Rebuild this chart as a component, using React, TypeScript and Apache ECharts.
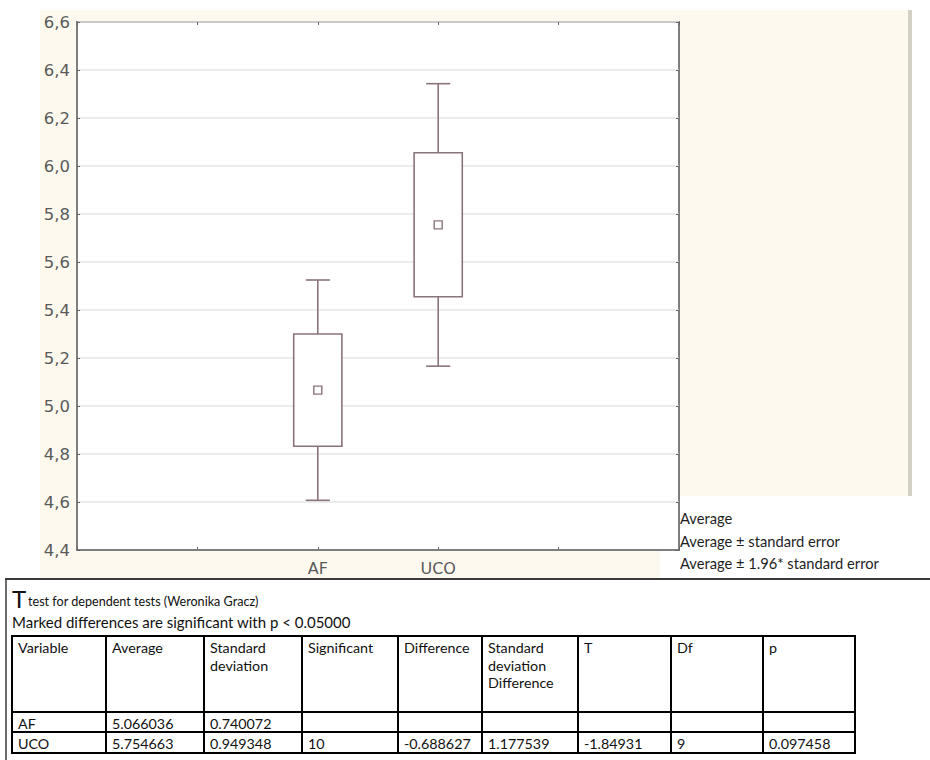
import React, { useEffect, useRef } from 'react';
import * as echarts from 'echarts';

// ---- data ----
const axisCategories = ['', '', 'AF', 'UCO', '', ''];
const variables = ['AF', 'UCO'];
const means = [5.066036, 5.754663];
const seLower = [4.832, 5.455];
const seUpper = [5.300, 6.055];
const ciLower = [4.607, 5.166];
const ciUpper = [5.525, 6.343];
const yTicks = { min: 4.4, max: 6.6, step: 0.2 };

const legendLines = ['Average', 'Average ± standard error', 'Average ± 1.96* standard error'];

const tableTitle = 'test for dependent tests (Weronika Gracz)';
const tableSubtitle = 'Marked differences are significant with p < 0.05000';
const tableHeader = ['Variable', 'Average', 'Standard\ndeviation', 'Significant', 'Difference', 'Standard\ndeviation\nDifference', 'T', 'Df', 'p'];
const rowAF = ['AF', '5.066036', '0.740072', '', '', '', '', '', ''];
const rowUCO = ['UCO', '5.754663', '0.949348', '10', '-0.688627', '1.177539', '-1.84931', '9', '0.097458'];

// ---- layout ----
const colEdges = [12, 106, 204, 302, 398, 482, 578, 671, 763, 855];
const rowEdges = [636, 712, 732, 753];

const BOX_COLOR = '#8a747a';
const CREAM = '#fdf9ee';
const TEXT_FONT = 'Lato';

export default function App() {
  const ref = useRef<HTMLDivElement>(null);

  useEffect(() => {
    document.body.style.margin = '0';
    const chart = echarts.init(ref.current!, null, { renderer: 'svg' });

    const seriesData = variables.map((v, i) => [
      axisCategories.indexOf(v),
      ciLower[i],
      seLower[i],
      means[i],
      seUpper[i],
      ciUpper[i],
    ]);

    const graphics: any[] = [];
    // backgrounds
    graphics.push({ type: 'rect', z: -100, silent: true, shape: { x: 40, y: 10, width: 869, height: 569 }, style: { fill: CREAM } });
    graphics.push({ type: 'rect', z: -99, silent: true, shape: { x: 660, y: 496, width: 270, height: 83 }, style: { fill: '#ffffff' } });
    graphics.push({ type: 'rect', z: -99, silent: true, shape: { x: 908, y: 10, width: 4, height: 486 }, style: { fill: '#d3d0c6' } });
    // legend text
    legendLines.forEach((t, i) => {
      graphics.push({ type: 'text', x: 680, y: 518 + i * 22.5, style: { text: t, font: `14.7px ${TEXT_FONT}`, fill: '#1e1e1e', verticalAlign: 'middle' } });
    });
    // table frame
    graphics.push({ type: 'line', shape: { x1: 5, y1: 579, x2: 930, y2: 579 }, style: { stroke: '#3a3a3a', lineWidth: 2 } });
    graphics.push({ type: 'line', shape: { x1: 6, y1: 579, x2: 6, y2: 760 }, style: { stroke: '#3a3a3a', lineWidth: 1.5 } });
    // title
    graphics.push({ type: 'text', x: 12, y: 610, style: { text: 'T', font: `24px ${TEXT_FONT}`, fill: '#111', verticalAlign: 'bottom' } });
    graphics.push({ type: 'text', x: 28, y: 608, style: { text: tableTitle, font: `12.6px ${TEXT_FONT}`, fill: '#111', verticalAlign: 'bottom' } });
    graphics.push({ type: 'text', x: 12, y: 622, style: { text: tableSubtitle, font: `15px ${TEXT_FONT}`, fill: '#111', verticalAlign: 'middle' } });
    // table grid lines
    colEdges.forEach((x) => {
      graphics.push({ type: 'line', shape: { x1: x, y1: rowEdges[0], x2: x, y2: rowEdges[rowEdges.length - 1] }, style: { stroke: '#000', lineWidth: 2 } });
    });
    rowEdges.forEach((y) => {
      graphics.push({ type: 'line', shape: { x1: colEdges[0] - 1, y1: y, x2: colEdges[colEdges.length - 1] + 1, y2: y }, style: { stroke: '#000', lineWidth: 2 } });
    });
    const cellFont = `14.3px ${TEXT_FONT}`;
    tableHeader.forEach((t, c) => {
      graphics.push({ type: 'text', x: colEdges[c] + 6, y: rowEdges[0] + 3, style: { text: t, font: cellFont, fill: '#111', lineHeight: 17.5, verticalAlign: 'top' } });
    });
    [rowAF, rowUCO].forEach((row, r) => {
      row.forEach((t, c) => {
        if (!t) return;
        graphics.push({ type: 'text', x: colEdges[c] + 6, y: (rowEdges[r + 1] + rowEdges[r + 2]) / 2 + 1, style: { text: t, font: cellFont, fill: '#111', verticalAlign: 'middle' } });
      });
    });

    const axisLabelStyle = { fontFamily: 'DejaVu Sans', color: '#5a5a5a' };

    chart.setOption({
      animation: false,
      backgroundColor: '#ffffff',
      grid: {
        left: 77, top: 22, right: 251, bottom: 210,
        show: true, backgroundColor: '#ffffff', borderColor: '#7e7e7e', borderWidth: 2,
      },
      xAxis: [
        {
          type: 'category', data: axisCategories, boundaryGap: false,
          axisLine: { show: true, lineStyle: { color: '#7e7e7e', width: 2 } },
          axisTick: { show: true, inside: true, length: 3, lineStyle: { color: '#666' } },
          axisLabel: { ...axisLabelStyle, fontSize: 16, margin: 10, interval: 0 },
          splitLine: { show: false },
        },
        {
          type: 'category', data: axisCategories, boundaryGap: false, position: 'top',
          axisLine: { show: false },
          axisTick: { show: true, inside: true, length: 3, lineStyle: { color: '#666' } },
          axisLabel: { show: false },
          splitLine: { show: false },
        },
      ],
      yAxis: [
        {
          type: 'value', min: yTicks.min, max: yTicks.max, interval: yTicks.step,
          axisLine: { show: true, lineStyle: { color: '#7e7e7e', width: 2 } },
          axisTick: { show: true, inside: true, length: 3, lineStyle: { color: '#666' } },
          axisLabel: { ...axisLabelStyle, fontSize: 16.5, margin: 7, formatter: (v: number) => v.toFixed(1).replace('.', ',') },
          splitLine: { show: true, lineStyle: { color: '#e6e6e6', width: 1.5 } },
        },
        {
          type: 'value', min: yTicks.min, max: yTicks.max, interval: yTicks.step, position: 'right',
          axisLine: { show: false },
          axisTick: { show: true, inside: true, length: 3, lineStyle: { color: '#666' } },
          axisLabel: { show: false },
          splitLine: { show: false },
        },
      ],
      series: [
        {
          type: 'custom',
          xAxisIndex: 0,
          yAxisIndex: 0,
          encode: { x: 0, y: [1, 2, 3, 4, 5] },
          data: seriesData,
          renderItem: (params: any, api: any) => {
            const xi = api.value(0);
            const pLo = api.coord([xi, api.value(1)]);
            const pSeLo = api.coord([xi, api.value(2)]);
            const pMean = api.coord([xi, api.value(3)]);
            const pSeHi = api.coord([xi, api.value(4)]);
            const pHi = api.coord([xi, api.value(5)]);
            const band = api.size([1, 0])[0];
            const bw = band * 0.4;
            const cw = band * 0.2;
            const cx = pMean[0];
            const style = { stroke: BOX_COLOR, lineWidth: 1.6, fill: 'none' };
            return {
              type: 'group',
              children: [
                { type: 'line', shape: { x1: cx, y1: pHi[1], x2: cx, y2: pSeHi[1] }, style },
                { type: 'line', shape: { x1: cx, y1: pSeLo[1], x2: cx, y2: pLo[1] }, style },
                { type: 'line', shape: { x1: cx - cw / 2, y1: pHi[1], x2: cx + cw / 2, y2: pHi[1] }, style },
                { type: 'line', shape: { x1: cx - cw / 2, y1: pLo[1], x2: cx + cw / 2, y2: pLo[1] }, style },
                { type: 'rect', shape: { x: cx - bw / 2, y: pSeHi[1], width: bw, height: pSeLo[1] - pSeHi[1] }, style: { ...style, fill: '#ffffff' } },
                { type: 'rect', shape: { x: cx - 4, y: pMean[1] - 4, width: 8, height: 8 }, style: { ...style, fill: '#ffffff', lineWidth: 1.4 } },
              ],
            };
          },
        },
      ],
      graphic: graphics,
    });

    return () => chart.dispose();
  }, []);

  return <div ref={ref} style={{ width: 930, height: 760 }} />;
}
